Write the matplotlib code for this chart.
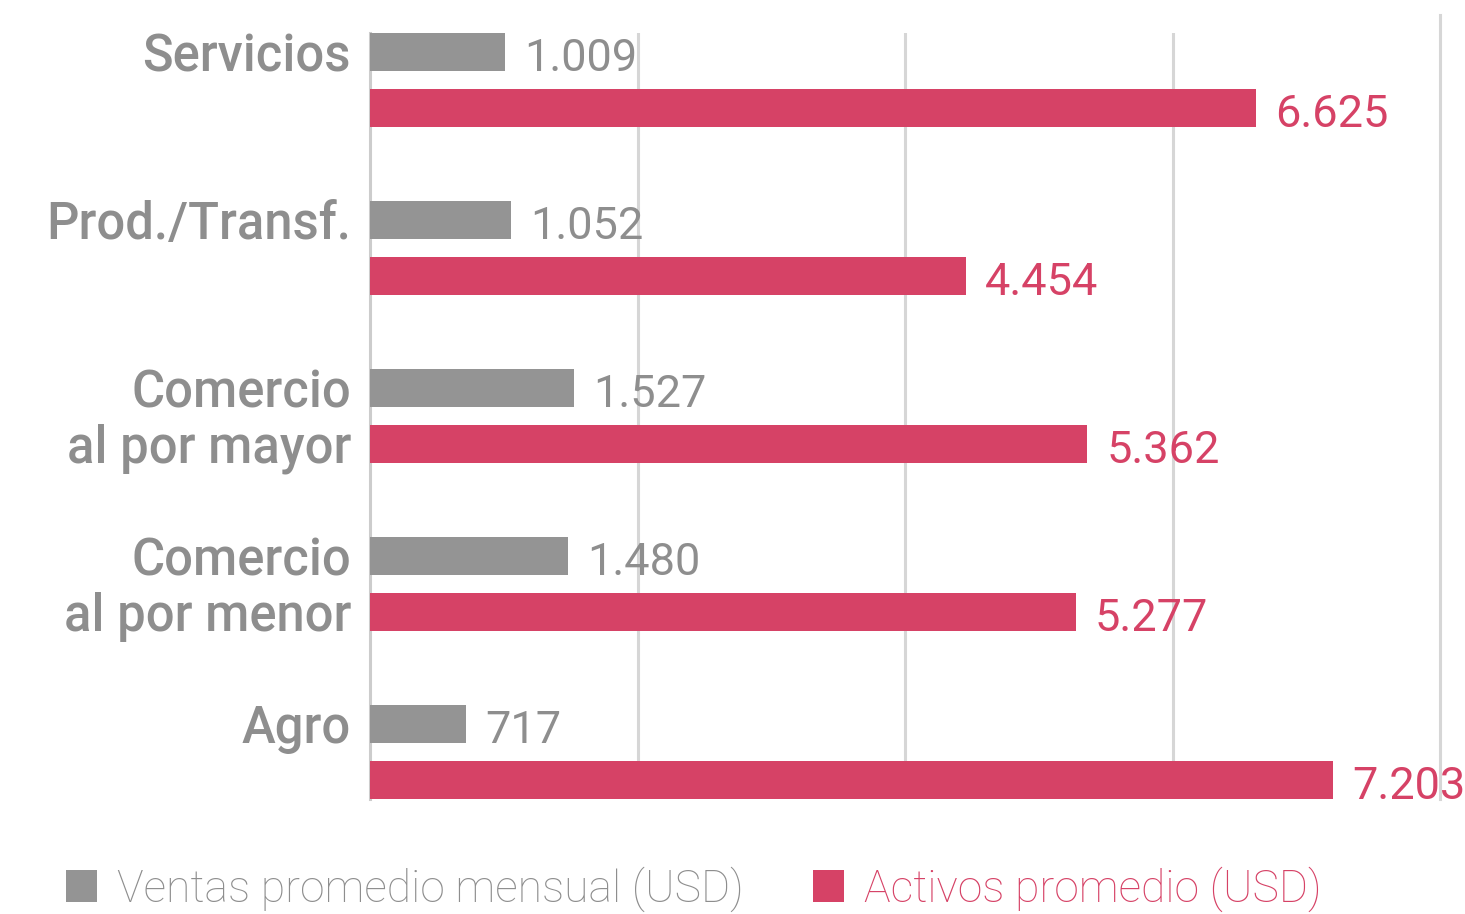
import matplotlib
matplotlib.use("Agg")
import matplotlib.pyplot as plt
import numpy as np

categories = ["Servicios", "Prod./Transf.", "Comercio\nal por mayor", "Comercio\nal por menor", "Agro"]
ventas = [1009, 1052, 1527, 1480, 717]
activos = [6625, 4454, 5362, 5277, 7203]
series_names = ["Ventas promedio mensual (USD)", "Activos promedio (USD)"]

GRAY = "#949494"
RED = "#D64266"
TEXT_GRAY = "#8e8e8e"
GRID = "#d6d6d6"

plt.rcParams['font.family'] = ['Roboto', 'DejaVu Sans']

fig = plt.figure(figsize=(14.65, 9.14), dpi=100)
ax = fig.add_axes([370/1465, 115/914, 1070/1465, 766/914])

y = np.arange(len(categories))
off = 28/168
h = 38/168

b1 = ax.barh(y - off, ventas, height=h, color=GRAY, label=series_names[0], zorder=3)
b2 = ax.barh(y + off, activos, height=h, color=RED, label=series_names[1], zorder=3)

ax.set_xlim(0, 8000)
ax.set_ylim(len(categories) - 1 + 47/168, -47/168)

for xv in [2000, 4000, 6000]:
    ax.axvline(xv, color=GRID, lw=2.2, zorder=1)
ax.axvline(8000, ymin=0, ymax=1 + 18/766, color=GRID, lw=2.2, zorder=1, clip_on=False)

for s in ["top", "right", "bottom"]:
    ax.spines[s].set_visible(False)
ax.spines["left"].set_color("#cccccc")
ax.spines["left"].set_linewidth(2.2)
ax.set_xticks([])
ax.set_yticks([])

def fmt(v):
    return f"{v:,}".replace(",", ".")

for i, (cat, v1, v2) in enumerate(zip(categories, ventas, activos)):
    lines = cat.split("\n")
    for j, line in enumerate(lines):
        ax.annotate(line, xy=(0, i - off + j * 2 * off), xytext=(-19, -19),
                    textcoords="offset pixels", ha="right", va="baseline",
                    fontsize=36.5, fontweight="medium", color=TEXT_GRAY,
                    annotation_clip=False)
    ax.annotate(fmt(v1), xy=(v1, i - off), xytext=(19, -19), textcoords="offset pixels",
                ha="left", va="baseline", fontsize=32.5, color=TEXT_GRAY, annotation_clip=False)
    ax.annotate(fmt(v2), xy=(v2, i + off), xytext=(19, -19), textcoords="offset pixels",
                ha="left", va="baseline", fontsize=32.5, color=RED, annotation_clip=False)

leg = fig.legend(handles=[b1, b2], labels=series_names, loc="center left",
                 bbox_to_anchor=(66/1465, 1 - 889/914), ncol=2, frameon=False,
                 handlelength=0.7, handleheight=0.7, handletextpad=0.45,
                 columnspacing=1.55, borderpad=0, borderaxespad=0,
                 prop={"weight": "light", "size": 32})
for t, c in zip(leg.get_texts(), [TEXT_GRAY, RED]):
    t.set_color(c)

fig.savefig("out.png", dpi=100)
